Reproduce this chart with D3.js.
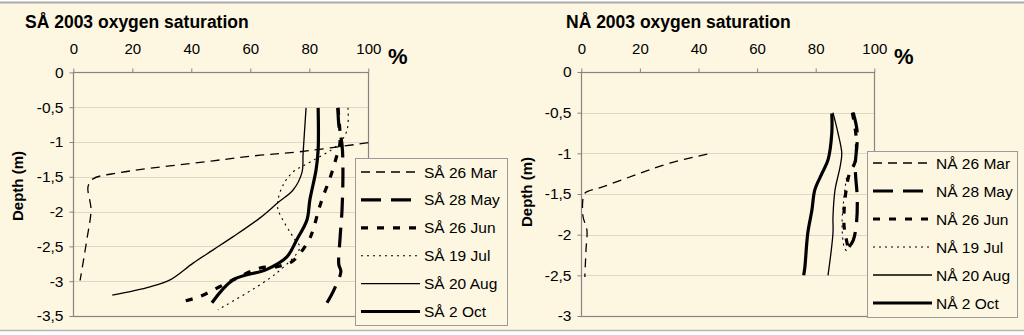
<!DOCTYPE html>
<html><head><meta charset="utf-8">
<script src="https://cdn.jsdelivr.net/npm/d3@7"></script>
<style>
html,body{margin:0;padding:0;background:#fff;}
svg{display:block;font-family:"Liberation Sans",Arial,sans-serif;}
</style></head>
<body>
<svg id="c" width="1024" height="335"></svg>
<script>
// ---------- data ----------
const xTicks = [0, 20, 40, 60, 80, 100];
const saDepthTicks = [0, -0.5, -1, -1.5, -2, -2.5, -3, -3.5];
const naDepthTicks = [0, -0.5, -1, -1.5, -2, -2.5, -3];
const dates = ["26 Mar", "28 May", "26 Jun", "19 Jul", "20 Aug", "2 Oct"];

// SÅ series: [oxygen saturation %, depth m]
const saMar = [[100,-1.01],[76.8,-1.14],[63.3,-1.19],[47.4,-1.27],[15.8,-1.44],[6.7,-1.53],[5,-1.64],[6,-1.97],[4.6,-2.4],[2.3,-2.99]];
const saMay = [[89.7,-0.51],[90,-0.75],[91.1,-1.04],[91.4,-1.4],[91.1,-1.97],[90.4,-2.4],[90,-2.76],[90.7,-2.86],[88.4,-3.12],[86,-3.31]];
const saJun = [[89.7,-0.51],[90.4,-1.01],[89.1,-1.23],[87,-1.52],[84.6,-1.79],[83,-2.0],[81.3,-2.26],[79.6,-2.43],[74.1,-2.72],[69.1,-2.79],[63.3,-2.81],[54.2,-2.98],[42.9,-3.22],[37.2,-3.29]];
const saJul = [[93.1,-0.51],[92.8,-0.83],[89.7,-1.04],[80.2,-1.29],[74.5,-1.43],[71.1,-1.62],[69.4,-1.83],[69.4,-1.97],[75.2,-2.41],[76.8,-2.51],[69,-2.88],[49,-3.41]];
const saAug = [[78.9,-0.51],[77.9,-1.16],[77.5,-1.44],[74.5,-1.69],[69.4,-1.87],[63.3,-2.09],[54.2,-2.36],[47.4,-2.55],[40.6,-2.74],[32.8,-2.98],[26,-3.08],[13.2,-3.2]];
const saOct = [[83,-0.51],[83,-1.11],[82.3,-1.4],[80.2,-1.83],[79.2,-2.12],[75.8,-2.4],[72.4,-2.65],[65.6,-2.83],[54.2,-2.98],[47,-3.31]];

// NÅ series
const naMar = [[43,-1.01],[30.2,-1.12],[18.9,-1.26],[7.5,-1.41],[1.2,-1.49],[0.6,-1.55],[0.6,-1.78],[1.9,-1.94],[1.6,-2.19],[1.2,-2.52]];
const naMay = [[92.8,-0.5],[94.2,-0.75],[93.5,-1.17],[94.2,-1.57],[93.8,-1.9],[92.8,-2.07],[91.4,-2.15]];
const naJun = [[92.5,-0.5],[93.8,-0.8],[93.5,-1.1],[91.5,-1.25],[90.4,-1.45],[89.7,-1.7],[89.7,-1.9],[90.4,-2.05],[91,-2.15]];
const naJul = [[90.5,-1.3],[89.5,-1.6],[89,-1.9],[89.7,-2.15],[90.5,-2.2]];
const naAug = [[85.9,-0.5],[87.6,-0.75],[88.9,-1.0],[88.3,-1.17],[86.6,-1.45],[85.9,-1.78],[85.9,-1.98],[84.2,-2.5]];
const naOct = [[85.5,-0.51],[85.5,-0.75],[84.2,-1.08],[82.1,-1.25],[79.7,-1.45],[78.7,-1.7],[77.3,-1.98],[76.3,-2.4],[75.9,-2.5]];

// ---------- styles ----------
const lineStyles = [
  {w:1.3, dash:"9,6"},
  {w:3.2, dash:"20,10"},
  {w:3.2, dash:"7,9"},
  {w:1.1, dash:"2,4"},
  {w:1.3, dash:null},
  {w:3.2, dash:null}
];
const bg = "#fdf7e1";
const gridC = "#dcd7c6";
const axisC = "#848484";
const fmt = v => (v === 0 ? "0" : String(v).replace(".", ","));

const svg = d3.select("#c");
svg.append("rect").attr("x",0).attr("y",2).attr("width",1024).attr("height",329).attr("fill",bg);
svg.append("line").attr("x1",0).attr("x2",1024).attr("y1",2.5).attr("y2",2.5).attr("stroke","#a9a9a9").attr("stroke-width",2);
svg.append("line").attr("x1",0).attr("x2",1024).attr("y1",330.5).attr("y2",330.5).attr("stroke","#b4b4b4").attr("stroke-width",1.5);

function panel(cfg){
  const g = svg.append("g");
  const x = d3.scaleLinear().domain([0,100]).range([cfg.x0, cfg.x1]);
  const y = d3.scaleLinear().domain([0, cfg.dMin]).range([cfg.y0, cfg.y1]);

  // title
  g.append("text").attr("x",cfg.titleX).attr("y",27.5).attr("font-size",17.5).attr("font-weight","bold").text(cfg.title);
  // %
  g.append("text").attr("x",cfg.pctX).attr("y",64).attr("font-size",22).attr("font-weight","bold").text("%");

  // gridlines
  g.append("g").selectAll("line").data(cfg.depthTicks.filter(d=>d!==0 && d!==cfg.dMin)).join("line")
    .attr("x1",x(0)).attr("x2",x(100)).attr("y1",d=>Math.round(y(d))+0.5).attr("y2",d=>Math.round(y(d))+0.5)
    .attr("stroke",gridC).attr("stroke-width",1);

  // frame
  g.append("rect").attr("x",Math.round(x(0))+0.5).attr("y",Math.round(y(0))+0.5)
    .attr("width",Math.round(x(100))-Math.round(x(0))).attr("height",Math.round(y(cfg.dMin))-Math.round(y(0)))
    .attr("fill","none").attr("stroke",axisC).attr("stroke-width",1.2);

  // top axis
  const ax = g.append("g").attr("transform",`translate(0,${Math.round(y(0))+0.5})`)
    .call(d3.axisTop(x).tickValues(xTicks).tickSize(4).tickPadding(15).tickFormat(fmt));
  ax.select(".domain").remove();
  ax.selectAll("line").attr("stroke",axisC);
  ax.selectAll("text").attr("font-size",15).attr("fill","#000").attr("font-family","Liberation Sans, Arial, sans-serif");

  // left axis
  const ay = g.append("g").attr("transform",`translate(${Math.round(x(0))+0.5},0)`)
    .call(d3.axisLeft(y).tickValues(cfg.depthTicks).tickSize(4).tickPadding(6).tickFormat(fmt));
  ay.select(".domain").remove();
  ay.selectAll("line").attr("stroke",axisC);
  ay.selectAll("text").attr("font-size",15.5).attr("fill","#000").attr("font-family","Liberation Sans, Arial, sans-serif");

  // y label
  g.append("text").attr("transform",`translate(${cfg.ylabX},${cfg.ylabY}) rotate(-90)`)
    .attr("text-anchor","middle").attr("font-size",15).attr("font-weight","bold").text("Depth (m)");

  // lines
  const line = d3.line().x(d=>x(d[0])).y(d=>y(d[1])).curve(d3.curveCatmullRom.alpha(0.5));
  cfg.series.forEach((s,i)=>{
    g.append("path").datum(s).attr("d",line).attr("fill","none").attr("stroke","#000")
      .attr("stroke-width",lineStyles[i].w).attr("stroke-dasharray",lineStyles[i].dash)
      .attr("stroke-linejoin","round");
  });

  // legend
  const L = cfg.legend;
  const lg = g.append("g");
  lg.append("rect").attr("x",L.x+0.5).attr("y",L.y+0.5).attr("width",L.w).attr("height",L.h)
    .attr("fill",bg).attr("stroke","#9a9a9a").attr("stroke-width",1);
  dates.forEach((d,i)=>{
    const yy = L.y + L.first + i*L.step;
    lg.append("line").attr("x1",L.x+6).attr("x2",L.x+65).attr("y1",yy).attr("y2",yy)
      .attr("stroke","#000").attr("stroke-width",lineStyles[i].w).attr("stroke-dasharray",lineStyles[i].dash);
    lg.append("text").attr("x",L.x+69).attr("y",yy+5.5).attr("font-size",15.5).text(cfg.prefix+" "+d);
  });
}

panel({
  title:"SÅ 2003 oxygen saturation", titleX:25, pctX:388, prefix:"SÅ",
  x0:73.3, x1:368.3, y0:72.4, y1:316, dMin:-3.5, depthTicks:saDepthTicks,
  ylabX:23, ylabY:186,
  series:[saMar,saMay,saJun,saJul,saAug,saOct],
  legend:{x:355, y:158, w:152, h:167, first:14, step:27.9}
});
panel({
  title:"NÅ 2003 oxygen saturation", titleX:566, pctX:894, prefix:"NÅ",
  x0:581.3, x1:874.3, y0:72, y1:316, dMin:-3, depthTicks:naDepthTicks,
  ylabX:532, ylabY:192,
  series:[naMar,naMay,naJun,naJul,naAug,naOct],
  legend:{x:867, y:151, w:150, h:166, first:12, step:28}
});
</script>
</body></html>
